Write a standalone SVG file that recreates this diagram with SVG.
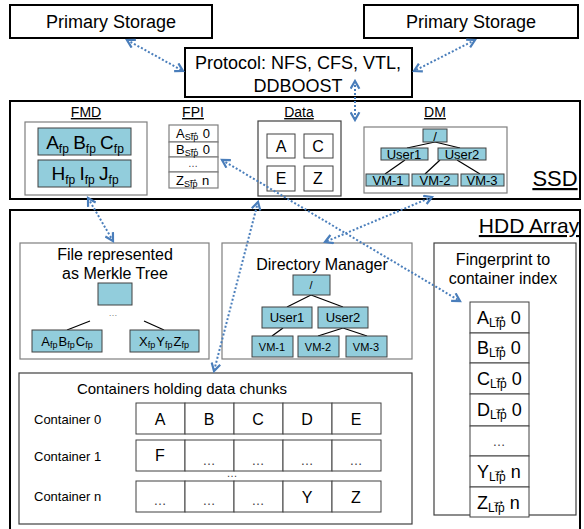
<svg xmlns="http://www.w3.org/2000/svg" width="584" height="529" viewBox="0 0 584 529">
<defs>
<marker id="ah" viewBox="0 0 10 10" refX="8" refY="5" markerWidth="5.5" markerHeight="5.5" orient="auto-start-reverse" markerUnits="strokeWidth">
<path d="M1,1 L8,5 L1,9" fill="none" stroke="#4a7ebb" stroke-width="2"/>
</marker>
</defs>
<style>
text{font-family:"Liberation Sans",Arial,sans-serif;fill:#000}
.outer{fill:#fff;stroke:#000;stroke-width:2}
.inner{fill:#fff;stroke:#7f7f7f;stroke-width:1.2}
.cell{fill:#fff;stroke:#404040;stroke-width:1}
.teal{fill:#92cddc;stroke:#404040;stroke-width:1}
.tl{stroke:#000;stroke-width:1.2}
.conn{fill:none;stroke:#4a7ebb;stroke-width:2;stroke-dasharray:2 2;marker-start:url(#ah);marker-end:url(#ah)}
.c{text-anchor:middle}
.dots{fill:#404040}
</style>
<rect width="584" height="529" fill="#fff"/>

<g id="primary-left">
<rect class="outer" x="10" y="5" width="202" height="33"/>
<text class="c" x="111" y="28" font-size="18">Primary Storage</text>
</g>
<g id="primary-right">
<rect class="outer" x="364" y="5" width="214" height="33"/>
<text class="c" x="471" y="28" font-size="18">Primary Storage</text>
</g>
<g id="protocol">
<rect class="outer" x="185" y="48" width="227" height="49"/>
<text class="c" x="298" y="69" font-size="18">Protocol: NFS, CFS, VTL,</text>
<text class="c" x="298" y="92" font-size="18">DDBOOST</text>
</g>

<g id="ssd">
<rect class="outer" x="10" y="101" width="570" height="98"/>
<text class="c" x="555" y="186" font-size="22" text-decoration="underline">SSD</text>
</g>
<g id="fmd">
<text class="c" x="86" y="117" font-size="14" text-decoration="underline">FMD</text>
<rect class="inner" x="25" y="122" width="122" height="73"/>
<rect class="teal" x="38" y="128" width="93" height="27"/>
<rect class="teal" x="38" y="160" width="93" height="27"/>
<text class="c" x="85" y="149" font-size="19">A<tspan font-size="12" dy="4">fp</tspan><tspan dy="-4" dx="-1"> B</tspan><tspan font-size="12" dy="4">fp</tspan><tspan dy="-4" dx="-1"> C</tspan><tspan font-size="12" dy="4">fp</tspan></text>
<text class="c" x="85" y="180" font-size="19">H<tspan font-size="12" dy="4">fp</tspan><tspan dy="-4" dx="-1"> I</tspan><tspan font-size="12" dy="4">fp</tspan><tspan dy="-4" dx="-1"> J</tspan><tspan font-size="12" dy="4">fp</tspan></text>
</g>
<g id="fpi">
<text class="c" x="193" y="117" font-size="14" text-decoration="underline">FPI</text>
<rect class="inner" x="169" y="125" width="49" height="17"/>
<rect class="inner" x="169" y="142" width="49" height="15"/>
<rect class="inner" x="169" y="157" width="49" height="15"/>
<rect class="inner" x="169" y="172" width="49" height="16"/>
<text x="176" y="138" font-size="13">A<tspan font-size="9" dy="2">Sfp</tspan><tspan font-size="11" dx="-10" dy="-5">→</tspan><tspan dy="3"> 0</tspan></text>
<text x="176" y="154" font-size="13">B<tspan font-size="9" dy="2">Sfp</tspan><tspan font-size="11" dx="-10" dy="-5">→</tspan><tspan dy="3"> 0</tspan></text>
<text class="c dots" x="193" y="167" font-size="10">…</text>
<text x="176" y="185" font-size="13">Z<tspan font-size="9" dy="2">Sfp</tspan><tspan font-size="11" dx="-10" dy="-5">→</tspan><tspan dy="3"> n</tspan></text>
</g>
<g id="data">
<text class="c" x="299" y="117" font-size="14" text-decoration="underline">Data</text>
<rect class="inner" x="258" y="121" width="83" height="75" style="stroke:#404040"/>
<rect class="cell" x="267" y="134" width="28" height="24"/>
<rect class="cell" x="304" y="134" width="29" height="24"/>
<rect class="cell" x="267" y="166" width="28" height="25"/>
<rect class="cell" x="304" y="166" width="29" height="25"/>
<text class="c" x="281" y="152" font-size="16">A</text>
<text class="c" x="318" y="152" font-size="16">C</text>
<text class="c" x="281" y="184" font-size="16">E</text>
<text class="c" x="318" y="184" font-size="16">Z</text>
</g>
<g id="dm">
<text class="c" x="435" y="117" font-size="14" text-decoration="underline">DM</text>
<rect class="inner" x="364" y="127" width="143" height="66"/>
<line class="tl" x1="435" y1="142" x2="407" y2="148"/>
<line class="tl" x1="435" y1="142" x2="460" y2="148"/>
<line class="tl" x1="405" y1="160" x2="385" y2="174"/>
<line class="tl" x1="440" y1="160" x2="425" y2="174"/>
<line class="tl" x1="457" y1="160" x2="480" y2="174"/>
<rect class="teal" x="423" y="129" width="24" height="13"/>
<rect class="teal" x="381" y="148" width="47" height="12"/>
<rect class="teal" x="438" y="148" width="48" height="12"/>
<rect class="teal" x="366" y="174" width="43" height="12"/>
<rect class="teal" x="412" y="174" width="46" height="12"/>
<rect class="teal" x="461" y="174" width="43" height="12"/>
<text class="c" x="435" y="141" font-size="13">/</text>
<text class="c" x="404" y="159" font-size="13">User1</text>
<text class="c" x="462" y="159" font-size="13">User2</text>
<text class="c" x="388" y="185" font-size="13">VM-1</text>
<text class="c" x="435" y="185" font-size="13">VM-2</text>
<text class="c" x="482" y="185" font-size="13">VM-3</text>
</g>

<g id="hdd">
<rect class="outer" x="10" y="210" width="570" height="322"/>
<text class="c" x="529" y="233" font-size="21" text-decoration="underline">HDD Array</text>
</g>
<g id="merkle">
<rect class="inner" x="20" y="243" width="189" height="116"/>
<text class="c" x="115" y="260" font-size="16">File represented</text>
<text class="c" x="115" y="279" font-size="16">as Merkle Tree</text>
<rect class="teal" x="98" y="283" width="34" height="22"/>
<text class="c" x="113" y="316" font-size="9" style="fill:#7f7f7f">…</text>
<line class="tl" x1="90" y1="321" x2="67" y2="330"/>
<line class="tl" x1="144" y1="321" x2="164" y2="330"/>
<rect class="teal" x="32" y="330" width="70" height="22"/>
<rect class="teal" x="130" y="330" width="69" height="22"/>
<text class="c" x="67" y="346" font-size="13">A<tspan font-size="9" dy="2">fp</tspan><tspan dy="-2" dx="1">B</tspan><tspan font-size="9" dy="2">fp</tspan><tspan dy="-2" dx="1">C</tspan><tspan font-size="9" dy="2">fp</tspan></text>
<text class="c" x="164" y="346" font-size="13">X<tspan font-size="9" dy="2">fp</tspan><tspan dy="-2" dx="1">Y</tspan><tspan font-size="9" dy="2">fp</tspan><tspan dy="-2" dx="1">Z</tspan><tspan font-size="9" dy="2">fp</tspan></text>
</g>
<g id="directory-manager">
<rect class="inner" x="222" y="243" width="190" height="116"/>
<text class="c" x="322" y="270" font-size="16">Directory Manager</text>
<line class="tl" x1="311" y1="295" x2="287" y2="307"/>
<line class="tl" x1="311" y1="295" x2="343" y2="307"/>
<line class="tl" x1="283" y1="328" x2="272" y2="336"/>
<line class="tl" x1="343" y1="328" x2="318" y2="336"/>
<line class="tl" x1="343" y1="328" x2="367" y2="336"/>
<rect class="teal" x="293" y="275" width="37" height="20"/>
<rect class="teal" x="262" y="307" width="50" height="21"/>
<rect class="teal" x="318" y="307" width="50" height="21"/>
<rect class="teal" x="252" y="336" width="41" height="21"/>
<rect class="teal" x="298" y="336" width="41" height="21"/>
<rect class="teal" x="346" y="336" width="41" height="21"/>
<text class="c" x="311" y="289" font-size="11">/</text>
<text class="c" x="287" y="322" font-size="13">User1</text>
<text class="c" x="343" y="322" font-size="13">User2</text>
<text class="c" x="272" y="351" font-size="11">VM-1</text>
<text class="c" x="318" y="351" font-size="11">VM-2</text>
<text class="c" x="366" y="351" font-size="11">VM-3</text>
</g>
<g id="fingerprint-index">
<rect class="inner" x="434" y="243" width="142" height="272" style="stroke:#404040"/>
<text class="c" x="503" y="265" font-size="16">Fingerprint to</text>
<text class="c" x="503" y="284" font-size="16">container index</text>
<rect class="cell" x="470" y="302" width="59" height="31"/>
<rect class="cell" x="470" y="333" width="59" height="30"/>
<rect class="cell" x="470" y="363" width="59" height="31"/>
<rect class="cell" x="470" y="394" width="59" height="32"/>
<rect class="cell" x="470" y="426" width="59" height="30"/>
<rect class="cell" x="470" y="456" width="59" height="31"/>
<rect class="cell" x="470" y="487" width="59" height="30"/>
<text x="477" y="324" font-size="18">A<tspan font-size="12" dy="3">Lfp</tspan><tspan font-size="15" dx="-14" dy="-7">→</tspan><tspan dy="4" dx="4">0</tspan></text>
<text x="477" y="354" font-size="18">B<tspan font-size="12" dy="3">Lfp</tspan><tspan font-size="15" dx="-14" dy="-7">→</tspan><tspan dy="4" dx="4">0</tspan></text>
<text x="477" y="385" font-size="18">C<tspan font-size="12" dy="3">Lfp</tspan><tspan font-size="15" dx="-14" dy="-7">→</tspan><tspan dy="4" dx="4">0</tspan></text>
<text x="477" y="416" font-size="18">D<tspan font-size="12" dy="3">Lfp</tspan><tspan font-size="15" dx="-14" dy="-7">→</tspan><tspan dy="4" dx="4">0</tspan></text>
<text class="c dots" x="499" y="446" font-size="13">…</text>
<text x="477" y="478" font-size="18">Y<tspan font-size="12" dy="3">Lfp</tspan><tspan font-size="15" dx="-14" dy="-7">→</tspan><tspan dy="4" dx="4">n</tspan></text>
<text x="477" y="509" font-size="18">Z<tspan font-size="12" dy="3">Lfp</tspan><tspan font-size="15" dx="-14" dy="-7">→</tspan><tspan dy="4" dx="4">n</tspan></text>
</g>
<g id="containers">
<rect class="inner" x="19" y="373" width="393" height="151" style="stroke:#404040"/>
<text class="c" x="182" y="394" font-size="15">Containers holding data chunks</text>
<text x="34" y="424" font-size="13">Container 0</text>
<text x="34" y="461" font-size="13">Container 1</text>
<text x="34" y="501" font-size="13">Container n</text>
<g font-size="16">
<rect class="cell" x="136" y="403" width="49" height="31"/><rect class="cell" x="185" y="403" width="49" height="31"/><rect class="cell" x="234" y="403" width="49" height="31"/><rect class="cell" x="283" y="403" width="49" height="31"/><rect class="cell" x="332" y="403" width="49" height="31"/>
<text class="c" x="160" y="425">A</text><text class="c" x="209" y="425">B</text><text class="c" x="258" y="425">C</text><text class="c" x="307" y="425">D</text><text class="c" x="356" y="425">E</text>
<rect class="cell" x="136" y="440" width="49" height="31"/><rect class="cell" x="185" y="440" width="49" height="31"/><rect class="cell" x="234" y="440" width="49" height="31"/><rect class="cell" x="283" y="440" width="49" height="31"/><rect class="cell" x="332" y="440" width="49" height="31"/>
<text class="c" x="160" y="461">F</text><text class="c dots" x="209" y="465" font-size="13">…</text><text class="c dots" x="258" y="465" font-size="13">…</text><text class="c dots" x="307" y="465" font-size="13">…</text><text class="c dots" x="356" y="465" font-size="13">…</text>
<text class="c dots" x="232" y="477" font-size="11">…</text>
<rect class="cell" x="136" y="481" width="49" height="31"/><rect class="cell" x="185" y="481" width="49" height="31"/><rect class="cell" x="234" y="481" width="49" height="31"/><rect class="cell" x="283" y="481" width="49" height="31"/><rect class="cell" x="332" y="481" width="49" height="31"/>
<text class="c dots" x="160" y="505" font-size="13">…</text><text class="c dots" x="209" y="505" font-size="13">…</text><text class="c dots" x="258" y="505" font-size="13">…</text><text class="c" x="307" y="503">Y</text><text class="c" x="356" y="503">Z</text>
</g>
</g>

<g id="connectors">
<line class="conn" x1="127" y1="40" x2="183" y2="71"/>
<line class="conn" x1="475" y1="40" x2="414" y2="71"/>
<line class="conn" x1="355" y1="81" x2="355" y2="120"/>
<line class="conn" x1="88" y1="198" x2="113" y2="241"/>
<line class="conn" x1="222" y1="160" x2="460" y2="301"/>
<line class="conn" x1="258" y1="202" x2="214" y2="371"/>
<line class="conn" x1="432" y1="197" x2="325" y2="242"/>
</g>
</svg>
